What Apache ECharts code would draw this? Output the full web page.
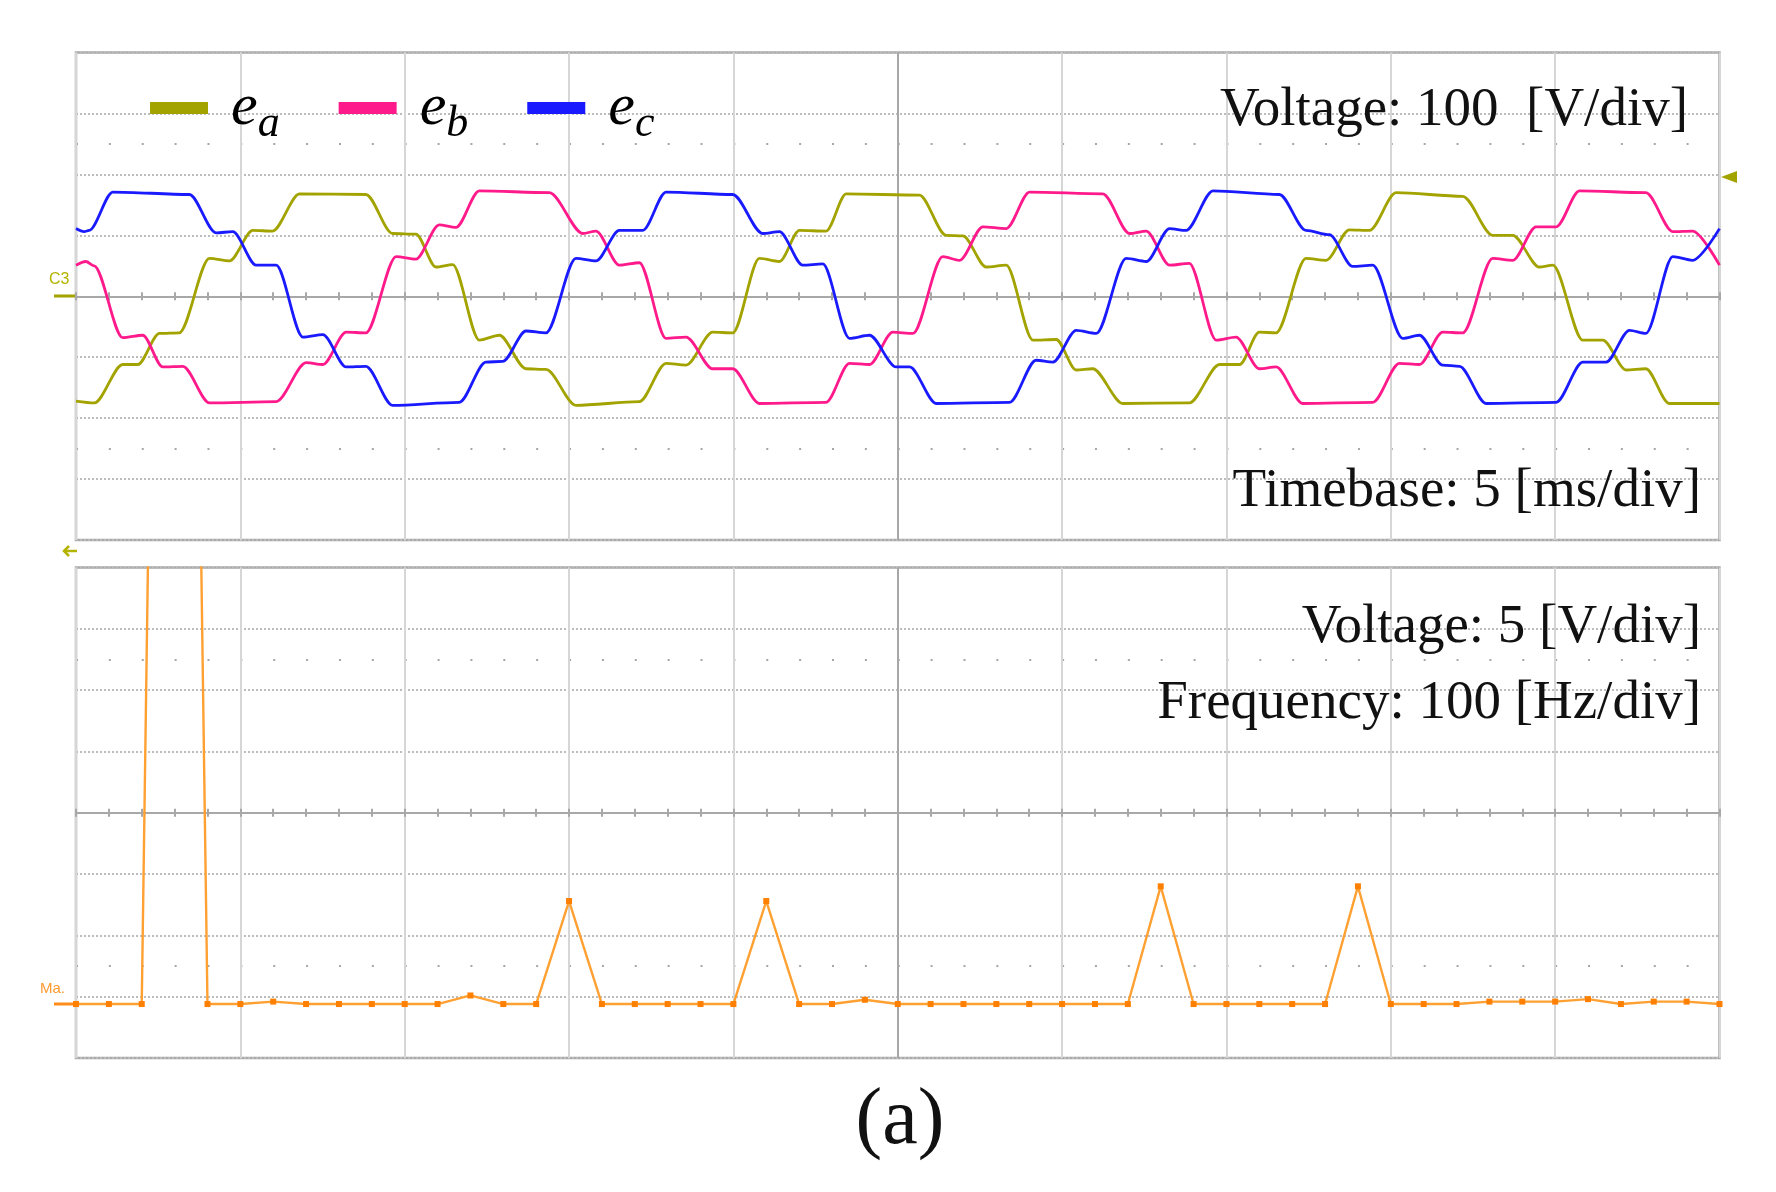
<!DOCTYPE html>
<html>
<head>
<meta charset="utf-8">
<script src="https://cdn.jsdelivr.net/npm/echarts@6/dist/echarts.min.js"></script>
<style>
  html, body { margin: 0; padding: 0; background: #fff; }
  #chart { width: 1776px; height: 1192px; }
</style>
</head>
<body>
<div id="chart"></div>
<script>
// phase voltages: [time ms, volts]
const eaPoints = [
  [0.00,-172],[0.56,-175],[1.42,-112],[1.88,-112],[2.54,-61],[3.14,-60],[4.06,62],[4.67,58],
  [5.38,108],[5.98,107],[6.80,168],[8.82,167],[9.63,103],[10.34,102],[10.95,48],[11.46,52],
  [12.27,-72],[12.88,-64],[13.69,-119],[14.30,-120],[15.21,-179],[17.14,-173],[17.95,-110],[18.56,-113],
  [19.37,-59],[19.98,-60],[20.79,62],[21.40,57],[22.01,108],[22.82,107],[23.43,168],[25.66,166],
  [26.47,100],[26.98,99],[27.69,48],[28.30,51],[29.11,-72],[29.82,-71],[30.43,-121],[30.93,-119],
  [31.85,-176],[33.87,-175],[34.79,-112],[35.40,-112],[36.00,-59],[36.51,-60],[37.42,62],[38.03,59],
  [38.74,109],[39.35,108],[40.16,170],[42.19,164],[43.10,100],[43.71,100],[44.52,48],[44.93,51],
  [45.84,-72],[46.45,-72],[47.16,-121],[47.76,-119],[48.47,-176],[50.00,-176]
];
const ebPoints = [
  [0.00,51],[0.30,57],[0.55,50],[1.42,-68],[2.03,-64],[2.64,-116],[3.25,-115],[4.06,-175],[6.09,-173],
  [7.00,-109],[7.51,-112],[8.22,-59],[8.82,-60],[9.74,65],[10.34,61],[11.05,117],[11.56,113],
  [12.27,173],[14.40,170],[15.42,103],[15.82,107],[16.53,51],[17.14,55],[17.95,-69],[18.56,-67],
  [19.37,-119],[19.98,-119],[20.79,-176],[22.82,-174],[23.53,-110],[24.14,-112],[24.85,-59],[25.46,-61],
  [26.37,65],[26.88,59],[27.59,114],[28.30,111],[29.01,171],[31.24,168],[32.05,103],[32.56,107],
  [33.27,51],[33.87,54],[34.69,-72],[35.29,-67],[36.00,-119],[36.51,-116],[37.32,-176],[39.45,-174],
  [40.26,-110],[40.87,-112],[41.58,-59],[42.19,-60],[43.10,62],[43.71,59],[44.42,114],[45.03,114],
  [45.74,173],[47.76,170],[48.58,106],[49.18,107],[50.00,51]
];
const ecPoints = [
  [0.00,111],[0.25,106],[0.40,108],[1.12,171],[3.45,167],[4.26,104],[4.77,106],[5.48,51],[6.09,51],
  [6.90,-67],[7.51,-63],[8.22,-116],[8.82,-115],[9.63,-179],[11.66,-174],[12.47,-108],[12.98,-107],
  [13.69,-57],[14.30,-60],[15.21,62],[15.82,58],[16.53,108],[17.24,108],[17.95,171],[19.98,167],
  [20.89,103],[21.40,106],[22.11,51],[22.72,53],[23.53,-69],[24.14,-64],[24.95,-116],[25.36,-116],
  [26.17,-176],[28.40,-174],[29.21,-105],[29.72,-108],[30.43,-56],[31.04,-61],[31.95,62],[32.56,57],
  [33.27,111],[33.77,108],[34.59,173],[36.61,167],[37.42,108],[38.13,101],[38.84,49],[39.45,51],
  [40.36,-69],[40.87,-64],[41.58,-113],[42.09,-115],[42.90,-176],[45.03,-174],[45.84,-108],[46.55,-108],
  [47.26,-56],[47.76,-61],[48.58,65],[49.18,59],[50.00,111]
];

// FFT bins (Hz) and magnitudes (V); 60 Hz bin runs far off screen
const freqHz = [
  0, 20, 40, 60, 80, 100, 120, 140, 160, 180, 200, 220, 240, 260, 280, 300, 320, 340, 360, 380,
  400, 420, 440, 460, 480, 500, 520, 540, 560, 580, 600, 620, 640, 660, 680, 700, 720, 740, 760, 780,
  800, 820, 840, 860, 880, 900, 920, 940, 960, 980, 1000
];
const spectrumV = [
  0, 0, 0, 190, 0, 0, 0.2, 0, 0, 0, 0, 0, 0.7, 0, 0, 8.4, 0, 0, 0, 0,
  0, 8.4, 0, 0, 0.35, 0, 0, 0, 0, 0, 0, 0, 0, 9.6, 0, 0, 0, 0, 0, 9.6,
  0, 0, 0, 0.2, 0.2, 0.2, 0.4, 0, 0.2, 0.2, 0
];

// half-division slots, only used to place the two rows of graticule dots
const dotRowSlots = ['0','1','2','3','4','5','6','7','8','9','10','11','12','13','14','15','16'];

const colors = { ea: '#a3a300', eb: '#ff1a8c', ec: '#1a1aff' };
const serif = "'Liberation Serif', 'Times New Roman', serif";
const gridGray = '#d6d6d6';
const midGray = '#a8a8a8';
const vLineColors = [gridGray, gridGray, gridGray, gridGray, gridGray, midGray,
                     gridGray, gridGray, gridGray, gridGray, gridGray];

const chart = echarts.init(document.getElementById('chart'), null, { renderer: 'canvas' });

const timeAxis = (gridIndex, position, max, interval, onZeroIdx, withSplit) => ({
  type: 'value', gridIndex, position, min: 0, max, interval,
  axisLine: { show: true, onZero: true, onZeroAxisIndex: onZeroIdx,
    lineStyle: { color: midGray, width: 2 } },
  axisTick: { show: true, inside: false, length: 4, lineStyle: { color: midGray, width: 2 } },
  minorTick: { show: true, splitNumber: 5, length: 4, lineStyle: { color: midGray, width: 2 } },
  axisLabel: { show: false },
  splitLine: { show: withSplit, lineStyle: { color: vLineColors, width: 2 } }
});

const divAxis = (gridIndex, min, max, interval) => ({
  type: 'value', gridIndex, min, max, interval,
  axisLine: { show: false }, axisTick: { show: false }, axisLabel: { show: false },
  splitLine: { show: true, lineStyle: { color: '#bcbcbc', width: 2, type: [2, 2] } }
});

const dotAxis = (gridIndex) => ({
  type: 'category', gridIndex, data: dotRowSlots, boundaryGap: false,
  axisLine: { show: false }, axisTick: { show: false }, axisLabel: { show: false },
  splitLine: {
    show: true,
    interval: (i) => i === 3 || i === 13,
    lineStyle: { color: '#a6a6a6', width: 2, type: [2, 30.87] }
  }
});

const traceSeries = (name, data, color) => ({
  name, type: 'line', xAxisIndex: 0, yAxisIndex: 0, data,
  showSymbol: false, smooth: 0.3, smoothMonotone: 'x',
  lineStyle: { color, width: 2.8 }, itemStyle: { color },
  silent: true, z: 5
});

const label = (text, x, y, size, align) => ({
  type: 'text', x, y, silent: true, z: 20,
  style: { text, fill: '#111', font: `${size}px ${serif}`, textAlign: align, textVerticalAlign: 'middle' }
});

chart.setOption({
  animation: false,
  backgroundColor: '#fff',
  grid: [
    { left: 76, right: 56.5, top: 52.5, height: 487.5, show: true,
      borderColor: '#a9a9a9', borderWidth: 2.5, backgroundColor: '#fff' },
    { left: 76, right: 56.5, top: 567.5, height: 490.5, show: true,
      borderColor: '#a9a9a9', borderWidth: 2.5, backgroundColor: '#fff' }
  ],
  xAxis: [
    timeAxis(0, 'bottom', 50, 5, 0, true),
    timeAxis(0, 'top', 50, 5, 0, false),
    timeAxis(1, 'bottom', 1000, 100, 1, true),
    timeAxis(1, 'top', 1000, 100, 1, false)
  ],
  yAxis: [
    divAxis(0, -400, 400, 100),
    divAxis(1, -4, 4, 1),
    { type: 'value', gridIndex: 1, min: -4.4, max: 35.6, show: false },
    dotAxis(0),
    dotAxis(1)
  ],
  legend: {
    data: ['e_a', 'e_b', 'e_c'],
    left: 150, top: 78, padding: 0,
    itemWidth: 58, itemHeight: 12, itemGap: 59, icon: 'rect',
    selectedMode: false,
    formatter: (name) => `{e|e}{s|${name.slice(2)}}`,
    textStyle: {
      rich: {
        e: { fontFamily: serif, fontStyle: 'italic', fontSize: 60, lineHeight: 60,
             verticalAlign: 'top', color: '#000', padding: [0, 0, 0, 18] },
        s: { fontFamily: serif, fontStyle: 'italic', fontSize: 44, lineHeight: 44,
             verticalAlign: 'top', color: '#000', padding: [24, 0, 0, 0] }
      }
    }
  },
  series: [
    traceSeries('e_a', eaPoints, colors.ea),
    traceSeries('e_b', ebPoints, colors.eb),
    traceSeries('e_c', ecPoints, colors.ec),
    {
      name: 'spectrum', type: 'line', xAxisIndex: 2, yAxisIndex: 2,
      data: freqHz.map((f, i) => [f, spectrumV[i]]),
      symbol: 'rect', symbolSize: 6, showAllSymbol: true,
      lineStyle: { color: '#ffa033', width: 2.4 }, itemStyle: { color: '#ff7f00' },
      silent: true, z: 5
    }
  ],
  graphic: [
    label('Voltage: 100  [V/div]', 1688, 111, 55, 'right'),
    label('Timebase: 5 [ms/div]', 1701, 492, 55, 'right'),
    label('Voltage: 5 [V/div]', 1701, 628, 55, 'right'),
    label('Frequency: 100 [Hz/div]', 1701, 704, 55, 'right'),
    label('(a)', 900, 1122, 80, 'center'),
    // scope channel / trigger markers
    { type: 'text', x: 49, y: 280, silent: true,
      style: { text: 'C3', fill: '#b3b300', font: "16px 'Liberation Sans', sans-serif", textVerticalAlign: 'middle' } },
    { type: 'rect', shape: { x: 54, y: 294.5, width: 21, height: 3 }, style: { fill: '#a3a300' }, silent: true },
    { type: 'polyline', shape: { points: [[77, 551], [64, 551]] }, style: { stroke: '#b3b300', lineWidth: 2.5 }, silent: true },
    { type: 'polyline', shape: { points: [[69, 546], [64, 551], [69, 556]] }, style: { stroke: '#b3b300', lineWidth: 2.5, fill: null }, silent: true },
    { type: 'polygon', shape: { points: [[1721, 177], [1737, 171], [1737, 183]] }, style: { fill: '#a3a300' }, silent: true },
    { type: 'text', x: 40, y: 989, silent: true,
      style: { text: 'Ma.', fill: '#ff9a2e', font: "15px 'Liberation Sans', sans-serif", textVerticalAlign: 'middle' } },
    { type: 'rect', shape: { x: 54, y: 1002.5, width: 22, height: 3 }, style: { fill: '#ff8c1a' }, silent: true }
  ]
});
</script>
</body>
</html>
